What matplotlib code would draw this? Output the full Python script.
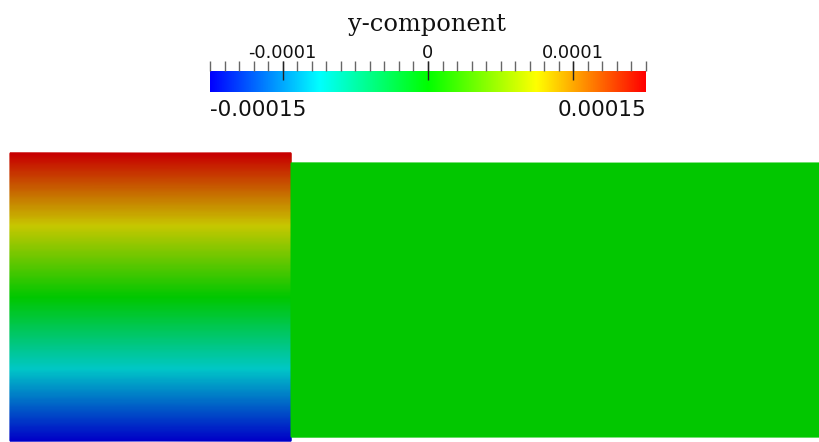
import numpy as np
import matplotlib
matplotlib.use("Agg")
import matplotlib.pyplot as plt
from matplotlib.colors import LinearSegmentedColormap, Normalize
from matplotlib.transforms import blended_transform_factory

# Field: y-component of displacement on the two blocks
vmin, vmax = -0.00015, 0.00015
left_x = [0.0, 0.976]             # left block extent (model units)
left_y = [0.0, 1.0]
left_vals = [-0.00015, 0.00015]   # nodal values bottom -> top
right_x = [0.976, 3.2]
right_y = [0.014, 0.965]
right_vals = [0.0, 0.0]

major_ticks = [-0.0001, 0.0, 0.0001]
major_labels = ["-0.0001", "0", "0.0001"]

# Rainbow lookup table: blue - cyan - green - yellow - red
rainbow = LinearSegmentedColormap.from_list(
    "rainbow5", ["#0000ff", "#00ffff", "#00ff00", "#ffff00", "#ff0000"])
shade = 0.78  # diffuse lighting on the surfaces
lit = LinearSegmentedColormap.from_list(
    "rainbow5_lit", [np.array(rainbow(v)[:3]) * shade for v in np.linspace(0, 1, 256)])
norm = Normalize(vmin, vmax)

fig = plt.figure(figsize=(8.2, 4.42), dpi=100)
ax = fig.add_axes([0, 0, 1, 1])
px = 288.0  # pixels per model unit
ax.set_xlim(-10 / px, 810 / px)
ax.set_ylim(-1 / px, 441 / px)
ax.axis("off")

# interpolate the scalar (not the colour) across each block, as the renderer does
for xs, ys, vals in [(left_x, left_y, left_vals), (right_x, right_y, right_vals)]:
    yy = np.linspace(ys[0], ys[1], 300)
    zz = np.interp(yy, ys, vals)
    Z = np.repeat(zz[:, None], 2, axis=1)
    ax.pcolormesh(xs, yy, Z, shading="gouraud", cmap=lit, norm=norm)

# Scalar bar
cax = fig.add_axes([210 / 820, 1 - 92 / 442, 436 / 820, 21 / 442])
grad = np.linspace(vmin, vmax, 512).reshape(1, -1)
cax.imshow(grad, aspect="auto", cmap=rainbow, norm=norm,
           extent=[vmin, vmax, 0, 1], interpolation="bilinear")
cax.set_xlim(vmin, vmax)
cax.set_ylim(0, 1)
cax.axis("off")

tr = blended_transform_factory(cax.transData, cax.transAxes)
minor = np.linspace(vmin, vmax, 31)
cax.vlines(minor, 1.0, 1.48, transform=tr, color="#666666", lw=1.0, clip_on=False)
cax.vlines(major_ticks, 0.57, 1.48, transform=tr, color="#222222", lw=1.0, clip_on=False)
for t, lab in zip(major_ticks, major_labels):
    cax.text(t, 1.62, lab, transform=tr, ha="center", va="baseline",
             fontsize=12.8, family="DejaVu Sans", color="#111111")

cax.text(vmin, -0.38, "-0.00015", transform=tr, ha="left", va="top",
         fontsize=15.5, family="DejaVu Sans", color="#111111")
cax.text(vmax, -0.38, "0.00015", transform=tr, ha="right", va="top",
         fontsize=15.5, family="DejaVu Sans", color="#111111")
fig.text(427 / 820, 1 - 31 / 442, "y-component", ha="center", va="baseline",
         fontsize=17.4, family="DejaVu Serif", color="#111111")

fig.savefig("out.png", dpi=100)
